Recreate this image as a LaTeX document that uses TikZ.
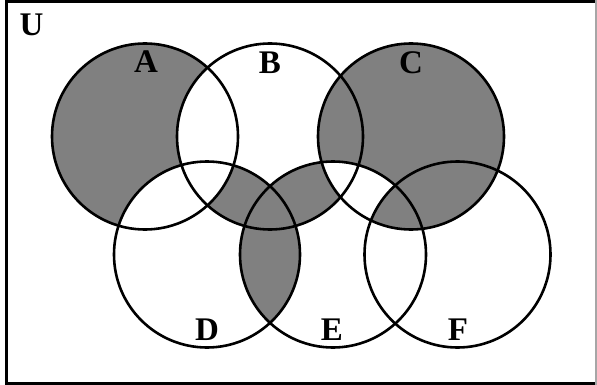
\documentclass[tikz,border=0pt]{standalone}
\usepackage{fontspec}
\setmainfont{Liberation Serif}

\tikzset{
  venn/.style={line width=2.6pt},
  lbl/.style={font=\fontsize{33}{33}\selectfont\bfseries, inner sep=0pt},
}

\begin{document}
\begin{tikzpicture}[x=1pt, y=-1pt]
        \useasboundingbox (0,0) rectangle (597,385);
        \def\vr{93pt}

        % 圆心
        \coordinate (cA) at (145,136.5);
        \coordinate (cB) at (270,136.5);
        \coordinate (cC) at (411,136.5);
        \coordinate (cD) at (207,254.5);
        \coordinate (cE) at (333,254.5);
        \coordinate (cF) at (457.5,254.5);

        % 阴影部分
        \fill[gray] (cA) circle (\vr) (cC) circle (\vr);
        \begin{scope}
            \clip (cB) circle (\vr);
            \fill[gray] (cD) circle (\vr) (cE) circle (\vr) (cC) circle (\vr);
        \end{scope}
        \begin{scope}
            \clip (cD) circle (\vr);
            \fill[gray] (cE) circle (\vr);
        \end{scope}

        % 空白部分
        \begin{scope}
            \clip (cA) circle (\vr);
            \fill[white] (cB) circle (\vr) (cD) circle (\vr);
        \end{scope}
        \begin{scope}
            \clip (cC) circle (\vr);
            \fill[white] (cE) circle (\vr);
        \end{scope}
        \begin{scope}
            \clip (cC) circle (\vr);
            \clip (cE) circle (\vr);
            \fill[gray] (cF) circle (\vr);
        \end{scope}

        % 六个圆
        \foreach \c in {cA,cB,cC,cD,cE,cF}
            \draw[venn] (\c) circle (\vr);

        % 全集边框
        \draw[line width=3pt] (595,1.5) -- (6.7,1.5) -- (6.7,383) -- (595,383);
        \draw[gray!70, line width=1.2pt] (596,0) -- (596,385);

        % 标签
        \node[lbl] (labU) at (31.5,25) {U};
        \node[lbl] (labA) at (146,62) {A};
        \node[lbl] (labB) at (270,63) {B};
        \node[lbl] (labC) at (411,63) {C};
        \node[lbl] (labD) at (207,330) {D};
        \node[lbl] (labE) at (332,330) {E};
        \node[lbl] (labF) at (458,330) {F};
    \end{tikzpicture}
\end{document}
